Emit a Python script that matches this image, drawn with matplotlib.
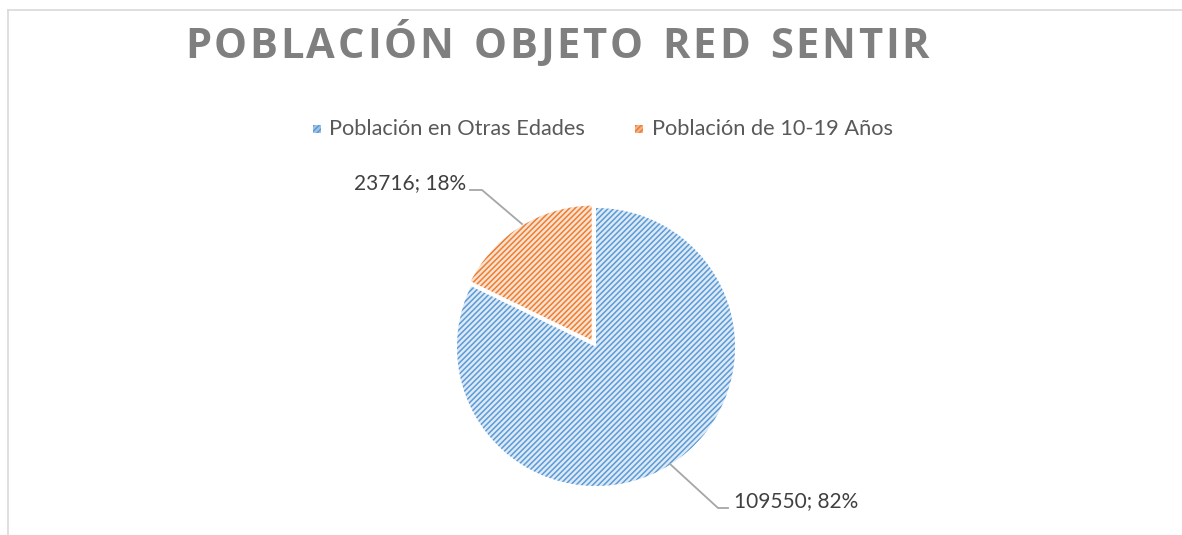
import numpy as np
import matplotlib
matplotlib.use("Agg")
import matplotlib.pyplot as plt
from matplotlib.patches import Rectangle, Wedge
from matplotlib.lines import Line2D

title = "POBLACIÓN OBJETO RED SENTIR"
categories = ["Población en Otras Edades", "Población de 10-19 Años"]
values = [109550, 23716]
percents = ["82%", "18%"]
face_colors = ["#dde9f6", "#fbe1cf"]
hatch_colors = ["#5b9bd5", "#ed7d31"]
legend_face_colors = ["#9fc2e7", "#f4b183"]

W, H, DPI = 1182, 535, 100
plt.rcParams['hatch.linewidth'] = 1.1
fig = plt.figure(figsize=(W / DPI, H / DPI), dpi=DPI)
ax = fig.add_axes([0, 0, 1, 1])
ax.set_axis_off()

# pixel geometry: pie centre (596, 347), radius 139 px
cx, cy, R = 596, 347, 139

# chart border (top and left)
fig.add_artist(Line2D([8 / W, 1], [1 - 10 / H, 1 - 10 / H], color="#d9d9d9", lw=1.2))
fig.add_artist(Line2D([8 / W, 8 / W], [0, 1 - 10 / H], color="#d9d9d9", lw=1.2))

wedges, _ = ax.pie(values, startangle=90, counterclock=False, radius=1.0,
                   explode=[0, 0.035], colors=face_colors,
                   wedgeprops=dict(linewidth=0))
for w, hc in zip(wedges, hatch_colors):
    w.set_hatch("//////")
    w.set_edgecolor(hc)
    w.set_linewidth(0)
# white separation line around exploded slice
for w in wedges[1:]:
    ax.add_patch(Wedge(w.center, w.r, w.theta1, w.theta2, fill=False,
                       edgecolor="white", linewidth=2.5))

ax.set_aspect("auto")
ax.set_xlim(-cx / R, (W - cx) / R)
ax.set_ylim((cy - H) / R, cy / R)

label_font = dict(family="Lato", fontsize=15, color="#404040")

# data labels with leader lines
lab0 = f"{values[0]}; {percents[0]}"
e0 = ((670 - cx) / R, (cy - 464) / R)
k0 = ((718 - cx) / R, (cy - 508) / R)
h0 = ((728 - cx) / R, (cy - 508) / R)
ax.plot([e0[0], k0[0], h0[0]], [e0[1], k0[1], h0[1]], color="#a6a6a6", lw=1.3)
ax.text((734 - cx) / R, (cy - 501) / R, lab0, ha="left", va="center", **label_font)
lab1 = f"{values[1]}; {percents[1]}"
e1 = ((522 - cx) / R, (cy - 224) / R)
k1 = ((482 - cx) / R, (cy - 190) / R)
h1 = ((470 - cx) / R, (cy - 190) / R)
ax.plot([e1[0], k1[0], h1[0]], [e1[1], k1[1], h1[1]], color="#a6a6a6", lw=1.3)
ax.text((466 - cx) / R, (cy - 183) / R, lab1, ha="right", va="center", **label_font)

# legend (manual)
leg_font = dict(family="Lato", fontsize=15.7, color="#595959")
leg_items = [(313, 329), (635, 652)]
for (mx, tx), cat, fc, hc in zip(leg_items, categories, legend_face_colors, hatch_colors):
    r = Rectangle((mx / W, 1 - 133 / H), 8 / W, 8 / H, transform=fig.transFigure,
                  facecolor=fc, edgecolor=hc, hatch="//////", linewidth=0)
    fig.add_artist(r)
    fig.text(tx / W, 1 - 129 / H, cat, ha="left", va="center", **leg_font)

# title with letter spacing
fig.canvas.draw()
renderer = fig.canvas.get_renderer()
tfont = dict(family="Open Sans", fontsize=30, fontweight="bold", color="#7f7f7f")
x_left, x_right, ty = 185, 929, 58
widths = []
for ch in title:
    t = fig.text(0, 0, ch if ch != " " else "n", **tfont)
    bb = t.get_window_extent(renderer)
    widths.append(bb.width if ch != " " else bb.width * 0.55)
    t.remove()
total_w = sum(widths)
gap = (x_right - x_left - total_w) / (len(title) - 1)
x = x_left
for ch, w in zip(title, widths):
    if ch != " ":
        fig.text(x / W, 1 - ty / H, ch, ha="left", va="baseline", **tfont)
    x += w + gap

fig.savefig("out.png", dpi=DPI)
